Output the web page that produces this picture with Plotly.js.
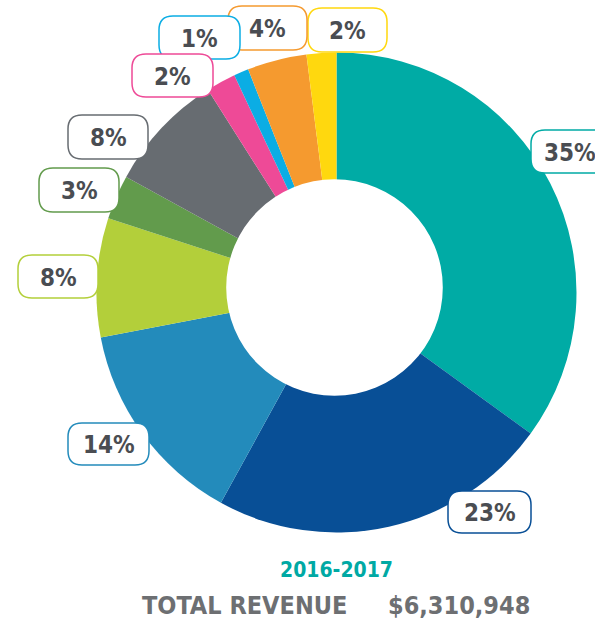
<!DOCTYPE html>
<html>
<head>
<meta charset="utf-8">
<script src="https://cdn.plot.ly/plotly-3.0.1.min.js"></script>
<style>html,body{margin:0;padding:0;background:#fff;}#chart{width:595px;height:624px;}</style>
</head>
<body>
<div id="chart"></div>
<script>
// ---- data ----
const categories = ["A","B","C","D","E","F","G","H","I","J"];
const values = [35, 23, 14, 8, 3, 8, 2, 1, 4, 2];
const colors = ["#00ABA5","#084F96","#238BBB","#B3CF3A","#629B4C","#676C71","#EE4A97","#0BADE4","#F59A2F","#FFD80E"];
const yearLabel = "2016-2017";
const totalLabel = "TOTAL REVENUE";
const totalValue = "$6,310,948";

// ---- layout helpers (pixel positions of callout boxes) ----
const W = 595, H = 624;
const X = v => v / W;
const Y = v => 1 - v / H;
const boxes = [
  [531, 130, 614, 173],
  [448, 491, 531, 533],
  [68, 423, 149, 465],
  [18, 255, 98, 298],
  [39, 168, 119, 212],
  [68, 115, 148, 159],
  [132, 54, 213, 97],
  [159, 16, 240, 59],
  [228, 6, 307, 50],
  [308, 8, 387, 52]
];
function rr(x0, y0, x1, y1, r) {
  const p = (x, y) => X(x) + "," + Y(y);
  return "M" + p(x0 + r, y0) + " L" + p(x1 - r, y0) + " Q" + p(x1, y0) + " " + p(x1, y0 + r) +
    " L" + p(x1, y1 - r) + " Q" + p(x1, y1) + " " + p(x1 - r, y1) +
    " L" + p(x0 + r, y1) + " Q" + p(x0, y1) + " " + p(x0, y1 - r) +
    " L" + p(x0, y0 + r) + " Q" + p(x0, y0) + " " + p(x0 + r, y0) + " Z";
}
const FONT = "'DejaVu Sans Condensed', 'Liberation Sans Narrow', 'Arial Narrow', sans-serif";

const cx = 336.5, cy = 292.5, R = 240;
const trace = {
  type: "pie",
  labels: categories,
  values: values,
  sort: false,
  direction: "clockwise",
  rotation: 0,
  hole: 0,
  textinfo: "none",
  hoverinfo: "none",
  marker: { colors: colors, line: { width: 0 } },
  domain: { x: [X(cx - R), X(cx + R)], y: [Y(cy + R), Y(cy - R)] },
  showlegend: false
};

const shapes = [];
// hole
shapes.push({
  type: "circle", xref: "paper", yref: "paper",
  x0: X(334.5 - 108.3), x1: X(334.5 + 108.3), y0: Y(287.5 + 108.3), y1: Y(287.5 - 108.3),
  fillcolor: "#ffffff", line: { width: 0 }, layer: "above"
});
const annotations = [];
for (let i = boxes.length - 1; i >= 0; i--) {
  const b = boxes[i];
  shapes.push({
    type: "path", xref: "paper", yref: "paper", path: rr(b[0], b[1], b[2], b[3], 14),
    fillcolor: "#ffffff", line: { color: colors[i], width: 1.5 }, layer: "above"
  });
}
for (let i = 0; i < boxes.length; i++) {
  const b = boxes[i];
  const first = i === 0;
  annotations.push({
    xref: "paper", yref: "paper",
    x: first ? X(542) : X((b[0] + b[2]) / 2), y: Y((b[1] + b[3]) / 2 + 1),
    xanchor: first ? "left" : "center", yanchor: "middle", showarrow: false,
    text: values[i] + "%",
    font: { family: FONT, size: 24, color: "#4A4D52", weight: 700 }
  });
}
annotations.push({
  xref: "paper", yref: "paper", x: X(336.5), y: Y(570), xanchor: "center", yanchor: "middle",
  showarrow: false, text: yearLabel,
  font: { family: FONT, size: 21, color: "#00A9A4", weight: 700 }
});
annotations.push({
  xref: "paper", yref: "paper", x: X(140), y: Y(605), xanchor: "left", yanchor: "middle",
  showarrow: false, text: totalLabel,
  font: { family: FONT, size: 25, color: "#6D6F72", weight: 700 }
});
annotations.push({
  xref: "paper", yref: "paper", x: X(386), y: Y(605), xanchor: "left", yanchor: "middle",
  showarrow: false, text: totalValue,
  font: { family: FONT, size: 25, color: "#6D6F72", weight: 700 }
});

const layout = {
  width: W, height: H,
  margin: { l: 0, r: 0, t: 0, b: 0, pad: 0 },
  paper_bgcolor: "#ffffff", plot_bgcolor: "#ffffff",
  showlegend: false,
  shapes: shapes,
  annotations: annotations
};
Plotly.newPlot("chart", [trace], layout, { staticPlot: true, displayModeBar: false });
</script>
</body>
</html>
